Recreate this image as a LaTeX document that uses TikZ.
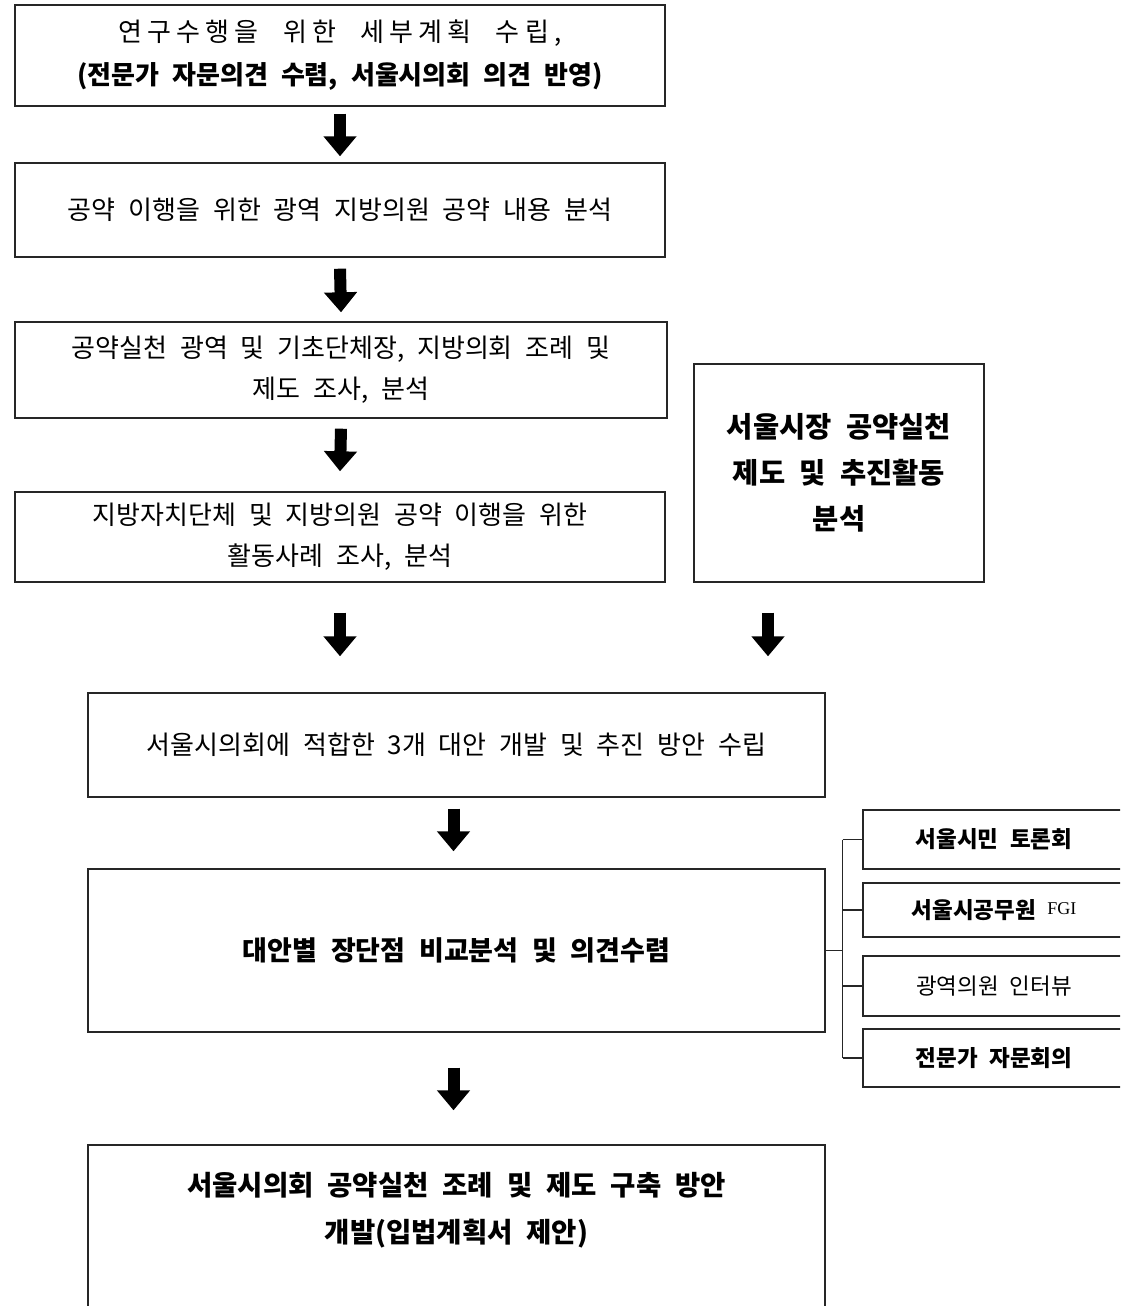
\documentclass[tikz,border=0pt]{standalone}
\usepackage{fontspec}
\setmainfont[WordSpace=2.2]{Noto Sans CJK KR}
\newfontfamily\latinserif{Liberation Serif}
\usetikzlibrary{arrows.meta,calc}
\begin{document}
\begin{tikzpicture}[x=1pt,y=-1pt,
  box/.style={draw=black!85,line width=1.4pt,inner sep=0pt,align=center,font=\fontsize{26}{43}\selectfont},
  sbox/.style={box,font=\fontsize{22.5}{24}\selectfont\bfseries},
  bigarrow/.style={draw=black,line width=12pt,-{Triangle[width=32pt,length=20pt]}},
  link/.style={draw=black!85,line width=1.4pt}]
\useasboundingbox (0,0) rectangle (1120,1306);
\clip (0,0) rectangle (1120,1306);
\fill[white] (0,0) rectangle (1120,1306);
\node[box,minimum width=650,minimum height=101] (b1) at (340,55.5) {{\addfontfeatures{LetterSpace=20}연구수행을 위한 세부계획 수립,}\\\textbf{(전문가 자문의견 수렴, 서울시의회 의견 반영)}};
\node[box,minimum width=650,minimum height=94] (b2) at (340,210) {공약 이행을 위한 광역 지방의원 공약 내용 분석};
\node[box,minimum width=652,minimum height=96,font=\fontsize{26}{41}\selectfont] (b3) at (341,370) {공약실천 광역 및 기초단체장, 지방의회 조례 및\\제도 조사, 분석};
\node[box,minimum width=650,minimum height=90,font=\fontsize{26}{41}\selectfont] (b4) at (340,537) {지방자치단체 및 지방의원 공약 이행을 위한\\활동사례 조사, 분석};
\node[box,minimum width=290,minimum height=218,font=\fontsize{28.5}{46}\selectfont\bfseries] (r) at (839,473) {서울시장 공약실천\\제도 및 추진활동\\분석};
\node[box,minimum width=737,minimum height=104] (b5) at (456.5,745) {서울시의회에 적합한 3개 대안 개발 및 추진 방안 수립};
\node[box,minimum width=737,minimum height=163,font=\fontsize{27}{43}\selectfont\bfseries] (b6) at (456.5,950.5) {대안별 장단점 비교분석 및 의견수렴};
\node[box,minimum width=737,minimum height=185,font=\fontsize{27.5}{47}\selectfont\bfseries] (b7) at (456.5,1237.5) {\mbox{}\\[-47pt]서울시의회 공약실천 조례 및 제도 구축 방안\\개발(입법계획서 제안)\\[-10pt]\mbox{}};
\node[sbox,minimum width=262,minimum height=59] (sa) at (994,839.5) {서울시민 토론회};
\node[sbox,minimum width=262,minimum height=54] (sb) at (994,910) {서울시공무원 {\mdseries\latinserif\fontsize{18}{20}\selectfont\raisebox{4pt}{FGI}}};
\node[box,minimum width=262,minimum height=60,font=\fontsize{22.5}{24}\selectfont] (sc) at (994,986) {광역의원 인터뷰};
\node[sbox,minimum width=262,minimum height=58] (sd) at (994,1058) {전문가 자문회의};
\coordinate (col) at (768,0);
\draw[bigarrow] ($(b1.south)+(0,7)$) -- ($(b2.north)+(0,-6)$);
\draw[bigarrow] ($(b2.south)+(0,11)$) -- ($(b3.north)+(0,-9)$);
\draw[bigarrow] ($(b3.south)+(0,10)$) -- ($(b4.north)+(0,-20)$);
\draw[bigarrow] ($(b4.south)+(0,30)$) -- ($(b4.south |- b5.north)+(0,-36)$);
\draw[bigarrow] ($(col |- r.south)+(0,30)$) -- ($(col |- b5.north)+(0,-36)$);
\draw[bigarrow] ($(b5.south)+(-3,11)$) -- ($(b6.north)+(-3,-17)$);
\draw[bigarrow] ($(b6.south)+(-3,35)$) -- ($(b7.north)+(-3,-34)$);
\draw[link] (b6.east) -- ++(17,0) coordinate (tr);
\draw[link] (tr |- sa.west) -- (tr |- sd.west);
\foreach \s in {sa,sb,sc,sd} \draw[link] (tr |- \s.west) -- (\s.west);
\end{tikzpicture}
\end{document}
